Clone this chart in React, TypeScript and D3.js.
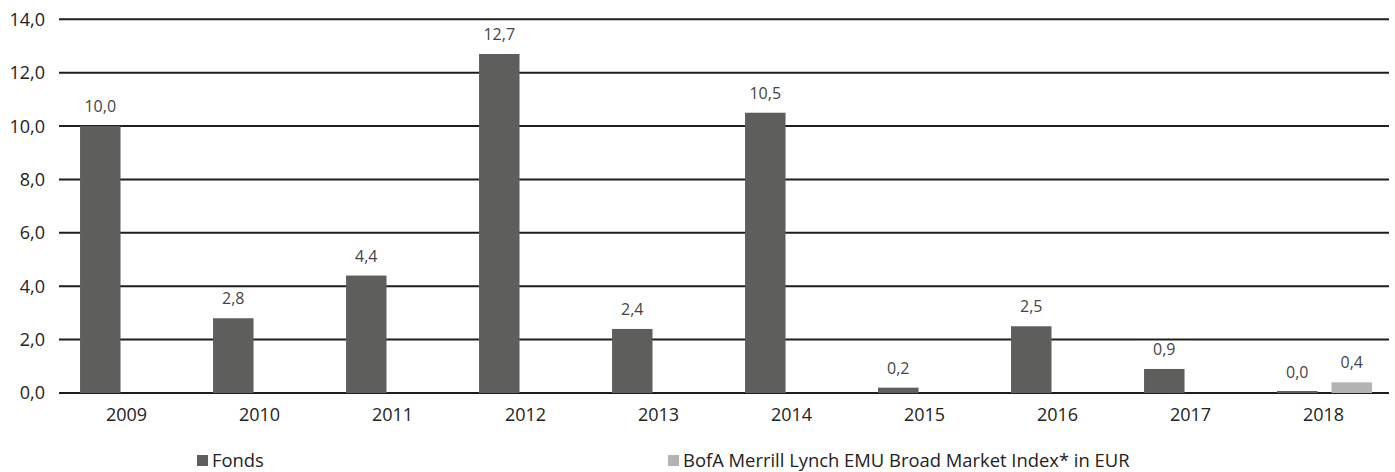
import React from "react";
import * as d3 from "d3";

const years = ["2009", "2010", "2011", "2012", "2013", "2014", "2015", "2016", "2017", "2018"];
const fondsValues = [10.0, 2.8, 4.4, 12.7, 2.4, 10.5, 0.2, 2.5, 0.9, 0.04];
const indexValues: (number | null)[] = [null, null, null, null, null, null, null, null, null, 0.4];
const yTicks = [0, 2, 4, 6, 8, 10, 12, 14];
const seriesNames = ["Fonds", "BofA Merrill Lynch EMU Broad Market Index* in EUR"];
const seriesColors = ["#5e5e5c", "#b3b3b3"];

const W = 1395;
const H = 472;
const left = 59;
const right = 1389;
const top = 19.3;
const bottom = 393;

const fmt = (v: number) => v.toFixed(1).replace(".", ",");

export default function App() {
  const x0 = d3.scaleBand<string>().domain(years).range([left, right]).paddingInner(0.286).paddingOuter(0.143).align(0.553);
  const x1 = d3.scaleBand<string>().domain(["f", "i"]).range([0, x0.bandwidth()]).paddingInner(0.257);
  const y = d3.scaleLinear().domain([0, 14]).range([bottom, top]);
  const font = "'Open Sans', 'Noto Sans', sans-serif";

  const bars: { key: string; x: number; v: number; color: string }[] = [];
  years.forEach((yr, i) => {
    bars.push({ key: yr + "f", x: (x0(yr) as number) + (x1("f") as number), v: fondsValues[i], color: seriesColors[0] });
    const iv = indexValues[i];
    if (iv !== null) bars.push({ key: yr + "i", x: (x0(yr) as number) + (x1("i") as number), v: iv, color: seriesColors[1] });
  });

  const step = (right - left) / years.length;
  return (
    <svg width={W} height={H} style={{ position: "absolute", left: 0, top: 0, background: "#fff" }} fontFamily={font}>
      {yTicks.map((t) => (
        <g key={t}>
          <line x1={left} x2={right} y1={y(t)} y2={y(t)} stroke="#1e1e1e" strokeWidth={2} />
          <text x={45} y={y(t)} dy="0.36em" textAnchor="end" fontSize={18} fill="#222">
            {fmt(t)}
          </text>
        </g>
      ))}
      {bars.map((b) => (
        <rect key={b.key} x={b.x} y={Math.min(y(b.v), bottom - 2)} width={x1.bandwidth()} height={Math.max(bottom - y(b.v), 2)} fill={b.color} />
      ))}
      {bars.map((b) => {
        const label = fmt(b.v);
        const cx = b.x + x1.bandwidth() / 2;
        const by = y(b.v) - 14;
        return (
          <g key={b.key + "l"}>
            <rect x={cx - 23} y={by - 14} width={46} height={18} fill="#fff" />
            <text x={cx} y={by} textAnchor="middle" fontSize={16} fill="#454545">
              {label}
            </text>
          </g>
        );
      })}
      {years.map((yr, i) => (
        <text key={yr} x={left + step * (i + 0.5) + 1} y={421} textAnchor="middle" fontSize={18} fill="#222">
          {yr}
        </text>
      ))}
      {seriesNames.map((n, i) => {
        const lx = i === 0 ? 197 : 668;
        return (
          <g key={n}>
            <rect x={lx} y={455} width={11} height={11} fill={seriesColors[i]} />
            <text x={lx + 15} y={467} fontSize={18.4} fill="#222">
              {n}
            </text>
          </g>
        );
      })}
    </svg>
  );
}
